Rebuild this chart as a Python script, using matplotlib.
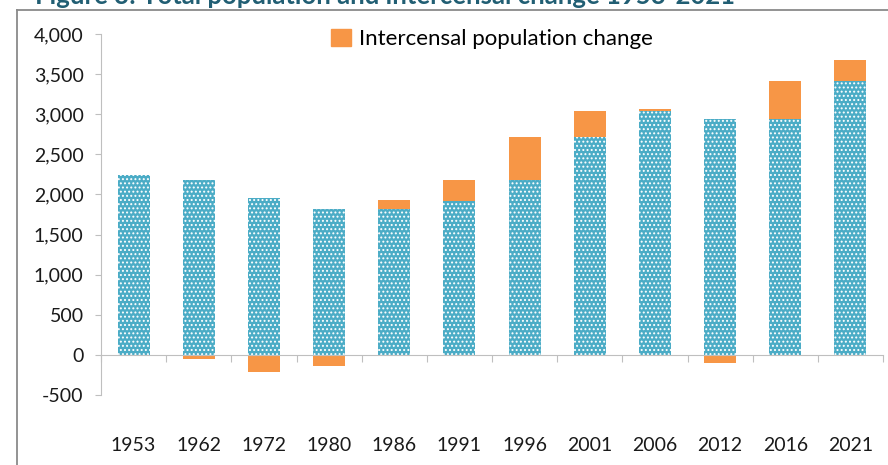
import matplotlib.pyplot as plt
import numpy as np
from matplotlib.lines import Line2D
from matplotlib.patches import Patch

# dane
years = ['1953', '1962', '1972', '1980', '1986', '1991', '1996', '2001', '2006', '2012', '2016', '2021']
base_pop = [2245, 2185, 1958, 1821, 1821, 1921, 2183, 2710, 3040, 2946, 2946, 3412]
change = [0, -55, -212, -137, 104, 262, 529, 336, 22, -104, 466, 263]
title = 'Figure 3: Total population and intercensal change 1953-2021'

blue = '#4BACC6'
orange = '#F79646'
grey = '#BFBFBF'

plt.rcParams['font.family'] = ['Lato', 'DejaVu Sans']
plt.rcParams['hatch.linewidth'] = 0.9

fig = plt.figure(figsize=(8.88, 4.65), dpi=100)
W, H = 888, 465
ax = fig.add_axes([101 / W, 1 - 395 / H, (883 - 101) / W, (395 - 34) / H])

x = np.arange(len(years))
base_pop = np.array(base_pop)
change = np.array(change)
ch_bottom = np.where(change > 0, base_pop, 0)

ax.bar(x, base_pop, width=0.49, color=blue, edgecolor='white', linewidth=0, hatch='....')
ax.bar(x, change, bottom=ch_bottom, width=0.49, color=orange, linewidth=0)

ax.set_xlim(-0.5, len(years) - 0.5)
ax.set_ylim(-500, 4000)
ax.set_yticks(np.arange(-500, 4001, 500))
ax.set_yticklabels(['{:,}'.format(v) for v in range(-500, 4001, 500)])
ax.tick_params(axis='y', length=4.5, color=grey, pad=8, labelsize=14, labelcolor='#1a1a1a')

# os x na poziomie zera, znaczniki na granicach kategorii
ax.spines['bottom'].set_position(('data', 0))
ax.spines['bottom'].set_color(grey)
ax.spines['left'].set_color(grey)
ax.spines['top'].set_visible(False)
ax.spines['right'].set_visible(False)
ax.set_xticks(np.arange(len(years) + 1) - 0.5)
ax.set_xticklabels([])
ax.tick_params(axis='x', length=5, color=grey)

sec = ax.secondary_xaxis('bottom')
sec.set_xticks(x)
sec.set_xticklabels(years)
sec.tick_params(length=0, pad=30, labelsize=14, labelcolor='#1a1a1a')
sec.spines['bottom'].set_visible(False)

leg = fig.legend(handles=[Patch(color=orange, label='Intercensal population change')],
                 loc='upper left', bbox_to_anchor=(331 / W, 1 - 29 / H), frameon=False,
                 fontsize=16, handlelength=0.88, handleheight=0.82, handletextpad=0.4,
                 borderpad=0, borderaxespad=0)

# ramka i uciety tytul (w oryginale widoczny tylko dol napisu)
fig.add_artist(Line2D([17 / W, 1], [1 - 10 / H, 1 - 10 / H], color='#8a8a8a', lw=1.3))
fig.add_artist(Line2D([17 / W, 17 / W], [0, 1 - 10 / H], color='#8a8a8a', lw=1.3))
fig.text(35 / W, 1 - 4 / H, title, fontsize=18.5, fontweight='bold', color='#215E73',
         ha='left', va='baseline')

fig.savefig('out.png', dpi=100)
